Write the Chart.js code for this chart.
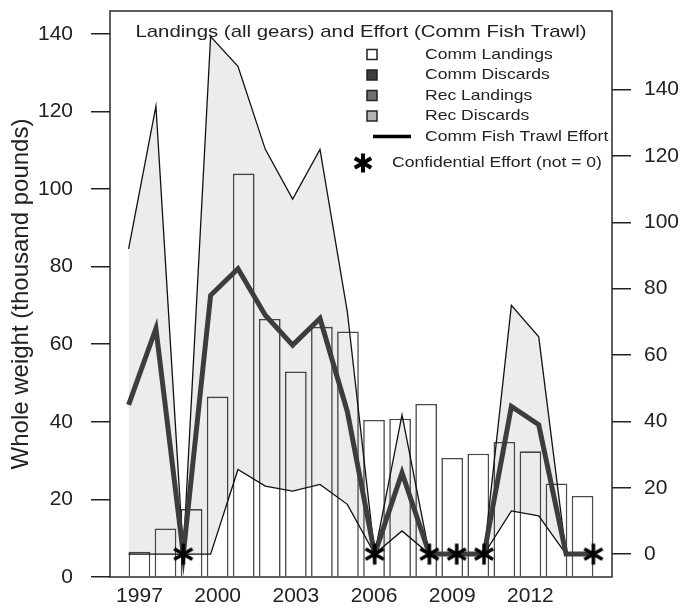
<!DOCTYPE html>
<html lang="en">
<head>
  <meta charset="utf-8">
  <title>Landings (all gears) and Effort (Comm Fish Trawl)</title>
  <script src="https://cdn.jsdelivr.net/npm/chart.js"></script>
  <style>
    html, body { margin: 0; padding: 0; background: #fff; }
    #wrap { width: 688px; height: 612px; position: relative; }
  </style>
</head>
<body>
  <div id="wrap"><canvas id="chart"></canvas></div>

  <script>
    // data
    const years = [1997, 1998, 1999, 2000, 2001, 2002, 2003, 2004, 2005, 2006, 2007, 2008, 2009, 2010, 2011, 2012, 2013, 2014];
    // thousand pounds (left axis)
    const commLandings = [6.5, 12.5, 17.5, 46.5, 104, 66.5, 53, 64.5, 63.3, 40.5, 40.8, 44.6, 30.7, 31.8, 34.8, 32.4, 24.1, 20.9];
    // effort (right axis)
    const effort = [45, 68, 0, 78, 86, 72, 63, 71, 43, 0, 24.5, 0, 0, 0, 44.5, 39, 0, 0];
    const effortUpper = [92, 135, 0, 156, 147, 122, 107, 122, 73, 0, 42, 0, 0, 0, 75, 65.5, 0, 0];
    const effortLower = [0, 0, 0, 0, 25.5, 20.5, 19, 21, 15, 0, 7, 0, 0, 0, 13, 11.5, 0, 0];
    const confidentialYears = [1999, 2006, 2008, 2009, 2010, 2014];
    // ticks
    const xTickYears = [1997, 2000, 2003, 2006, 2009, 2012];
    const leftTicks = [0, 20, 40, 60, 80, 100, 120, 140];
    const rightTicks = [0, 20, 40, 60, 80, 100, 120, 140];

    const legendItems = [
      { label: 'Comm Landings', fill: '#ffffff' },
      { label: 'Comm Discards', fill: '#3c3c3c' },
      { label: 'Rec Landings', fill: '#6e6e6e' },
      { label: 'Rec Discards', fill: '#b4b4b4' }
    ];

    // six armed asterisk used for the confidential points
    function drawStar(ctx, cx, cy, arm, lw) {
      ctx.save();
      ctx.strokeStyle = '#000';
      ctx.lineWidth = lw;
      ctx.beginPath();
      for (let k = 0; k < 3; k++) {
        const a = Math.PI / 2 + k * Math.PI / 3;
        ctx.moveTo(cx - arm * Math.cos(a), cy - arm * Math.sin(a));
        ctx.lineTo(cx + arm * Math.cos(a), cy + arm * Math.sin(a));
      }
      ctx.stroke();
      ctx.restore();
    }
    const starImg = document.createElement('canvas');
    starImg.width = 26;
    starImg.height = 26;
    drawStar(starImg.getContext('2d'), 13, 13, 10.5, 3.5);

    // text in the plot looks horizontally stretched
    function wideText(ctx, text, x, y, sx, align) {
      ctx.save();
      ctx.translate(x, y);
      ctx.scale(sx, 1);
      ctx.textAlign = align;
      ctx.textBaseline = 'middle';
      ctx.fillText(text, 0, 0);
      ctx.restore();
    }

    const boxAndLegend = {
      id: 'boxAndLegend',
      afterDraw(chart) {
        const ctx = chart.ctx;
        const ca = chart.chartArea;
        ctx.save();
        // frame
        ctx.strokeStyle = '#2a2a2a';
        ctx.lineWidth = 1.5;
        ctx.strokeRect(ca.left, ca.top, ca.right - ca.left, ca.bottom - ca.top);

        // title
        ctx.fillStyle = '#222';
        ctx.font = '17px "Liberation Sans", Arial, sans-serif';
        wideText(ctx, 'Landings (all gears) and Effort (Comm Fish Trawl)', (ca.left + ca.right) / 2, ca.top + 21, 1.2, 'center');

        // legend
        const symX = ca.left + 262;
        const textX = ca.left + 315;
        ctx.font = '15px "Liberation Sans", Arial, sans-serif';
        legendItems.forEach((item, i) => {
          const y = ca.top + 43.5 + i * 20.5;
          ctx.fillStyle = item.fill;
          ctx.fillRect(symX - 5, y - 5, 10, 10);
          ctx.strokeStyle = '#222';
          ctx.lineWidth = 1.5;
          ctx.strokeRect(symX - 5, y - 5, 10, 10);
          ctx.fillStyle = '#222';
          wideText(ctx, item.label, textX, y, 1.17, 'left');
        });
        const ly = ca.top + 43.5 + 4 * 20.5;
        ctx.strokeStyle = '#000';
        ctx.lineWidth = 3.5;
        ctx.beginPath();
        ctx.moveTo(ca.left + 263, ly);
        ctx.lineTo(ca.left + 301, ly);
        ctx.stroke();
        ctx.fillStyle = '#222';
        wideText(ctx, 'Comm Fish Trawl Effort', textX, ly, 1.17, 'left');

        const sy = ca.top + 152;
        drawStar(ctx, ca.left + 253, sy, 9.5, 4);
        wideText(ctx, 'Confidential Effort (not = 0)', ca.left + 282, sy, 1.17, 'left');
        ctx.restore();
      }
    };

    const tickFont = { family: '"Liberation Sans", Arial, sans-serif', size: 21 };
    const noPad = s => { s.paddingTop = 0; s.paddingBottom = 0; s.paddingLeft = 0; s.paddingRight = 0; };

    new Chart(document.getElementById('chart'), {
      type: 'bar',
      data: {
        datasets: [
          {
            type: 'bar',
            label: 'Comm Landings',
            data: years.map((y, i) => ({ x: y, y: commLandings[i] })),
            xAxisID: 'x',
            yAxisID: 'y',
            backgroundColor: '#ffffff',
            borderColor: '#4a4a4a',
            borderWidth: 1.6,
            grouped: false,
            barPercentage: 0.833,
            categoryPercentage: 1,
            order: 4
          },
          {
            type: 'line',
            label: 'Upper',
            data: years.map((y, i) => ({ x: y, y: effortUpper[i] })),
            xAxisID: 'x2',
            yAxisID: 'y2',
            borderColor: '#111',
            borderWidth: 1.3,
            pointRadius: 0,
            tension: 0,
            fill: '+1',
            backgroundColor: 'rgba(0,0,0,0.075)',
            order: 3
          },
          {
            type: 'line',
            label: 'Lower',
            data: years.map((y, i) => ({ x: y, y: effortLower[i] })),
            xAxisID: 'x2',
            yAxisID: 'y2',
            borderColor: '#111',
            borderWidth: 1.3,
            pointRadius: 0,
            tension: 0,
            fill: false,
            order: 3
          },
          {
            type: 'line',
            label: 'Comm Fish Trawl Effort',
            data: years.map((y, i) => ({ x: y, y: effort[i] })),
            xAxisID: 'x2',
            yAxisID: 'y2',
            borderColor: '#3d3d3d',
            borderWidth: 5,
            pointRadius: 0,
            tension: 0,
            fill: false,
            order: 2
          },
          {
            type: 'line',
            label: 'Confidential Effort (not = 0)',
            data: confidentialYears.map(y => ({ x: y, y: 0 })),
            xAxisID: 'x2',
            yAxisID: 'y2',
            showLine: false,
            pointStyle: starImg,
            pointRadius: 10,
            order: 1
          }
        ]
      },
      options: {
        responsive: true,
        maintainAspectRatio: false,
        animation: false,
        layout: { padding: { top: 9, left: 0, right: 0, bottom: 0 } },
        plugins: {
          legend: { display: false },
          tooltip: { enabled: false }
        },
        scales: {
          x: {
            type: 'linear',
            position: 'bottom',
            offset: false,
            min: 1995.87,
            max: 2015.13,
            afterBuildTicks: s => { s.ticks = xTickYears.map(v => ({ value: v })); },
            afterFit: s => { s.height = 35; noPad(s); },
            grid: { display: false, drawTicks: false, offset: false },
            border: { display: false },
            ticks: { font: tickFont, color: '#222', padding: 7, maxRotation: 0, callback: v => String(v) }
          },
          x2: {
            type: 'linear',
            display: false,
            offset: false,
            grid: { offset: false },
            min: 1996.32,
            max: 2014.68
          },
          y: {
            position: 'left',
            min: 0,
            max: 145.9,
            afterBuildTicks: s => { s.ticks = leftTicks.map(v => ({ value: v })); },
            afterFit: s => { s.width = 110; noPad(s); },
            grid: { drawOnChartArea: false, tickLength: 19, color: '#222', lineWidth: 1.5 },
            border: { display: false },
            ticks: { font: tickFont, color: '#222', padding: 18 },
            title: {
              display: true,
              text: 'Whole weight (thousand pounds)',
              font: { family: '"Liberation Sans", Arial, sans-serif', size: 24 },
              color: '#222',
              padding: { top: 7, bottom: 0 }
            }
          },
          y2: {
            position: 'right',
            min: -6.9,
            max: 163.7,
            afterBuildTicks: s => { s.ticks = rightTicks.map(v => ({ value: v })); },
            afterFit: s => { s.width = 76; noPad(s); },
            grid: { drawOnChartArea: false, tickLength: 19, color: '#222', lineWidth: 1.5 },
            border: { display: false },
            ticks: { font: tickFont, color: '#222', padding: 13 }
          }
        }
      },
      plugins: [boxAndLegend]
    });
  </script>
</body>
</html>
